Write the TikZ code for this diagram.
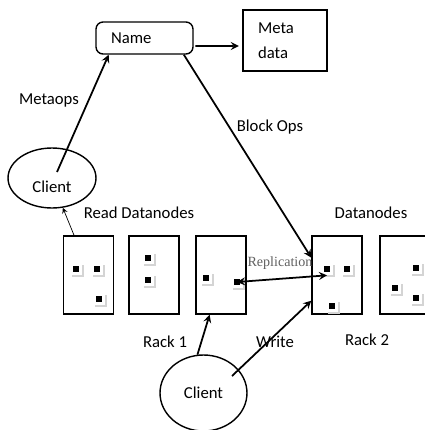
\documentclass[tikz,border=0pt]{standalone}
\usepackage{fontspec}
\setmainfont{Carlito}
\newfontfamily\repfont{Liberation Serif}
\usetikzlibrary{shapes.geometric,arrows,shadows}
\definecolor{shadowgray}{RGB}{212,212,212}
\definecolor{labelgray}{RGB}{95,95,95}

\begin{document}
\begin{tikzpicture}[x=0.02cm, y=-0.02cm, font=\fontsize{9.5}{14}\selectfont]
\tikzstyle{process} = [rectangle, draw, line width=0.8pt, align=left, inner xsep=0.3cm]
\tikzstyle{rack} = [rectangle, draw, line width=0.8pt, minimum width=1cm, minimum height=1.56cm]
\tikzstyle{client} = [ellipse, draw, line width=0.8pt]
\tikzstyle{blk} = [rectangle, inner sep=0, minimum size=6.8pt, fill=white, drop shadow={shadow xshift=1.2pt, shadow yshift=-1.2pt, fill=shadowgray, opacity=1}, path picture={\fill[black] ([xshift=-1.7pt,yshift=-1.7pt]path picture bounding box.center) rectangle ([xshift=1.7pt,yshift=1.7pt]path picture bounding box.center);}]
\tikzstyle{arrow} = [line width=1pt,->,>=stealth]

\useasboundingbox (0,0) rectangle (425,430);

% name node and metadata
\node (name) [process, rounded corners, text width=1.34cm, minimum height=0.64cm] at (144.5,38) {Name};
\node (meta) [process, text width=1.08cm, minimum height=1.22cm] at (285,40.5) {Meta\\data};

% clients
\node (client1) [client, minimum width=1.76cm, minimum height=1.2cm, label={[yshift=-0.18cm]center:Client}] at (52,178) {};
\node (client2) [client, minimum width=1.74cm, minimum height=1.52cm] at (203.5,393) {Client};

% racks
\node (box1) [rack] at (88.5,275) {};
\node (box2) [rack] at (154,275) {};
\node (box3) [rack] at (221,275) {};
\node (box4) [rack] at (337,275) {};
\node (box5) [rack] at (405,275) {};

% blocks
\node (b1a) [blk] at (76,269) {};
\node (b1b) [blk] at (97,269) {};
\node (b1c) [blk] at (99,299) {};
\node (b2a) [blk] at (148,258) {};
\node (b2b) [blk] at (148,280) {};
\node (b3a) [blk] at (206,278) {};
\node (b3b) [blk] at (237,282) {};
\node (b4a) [blk] at (327,269) {};
\node (b4b) [blk] at (347,269) {};
\node (b4c) [blk] at (332,306) {};
\node (b5a) [blk] at (416,268) {};
\node (b5b) [blk] at (395,288) {};
\node (b5c) [blk] at (416,298) {};

% labels
\node (metaops) at (49,100) {Metaops};
\node (blockops) at (270,127) {Block Ops};
\node (readdn) at (139,213) {Read Datanodes};
\node (datanodes) at (371,213) {Datanodes};
\node (rack1) at (165,342) {Rack 1};
\node (write) at (275,342) {Write};
\node (rack2) at (367,340) {Rack 2};
\node (repl) [font=\repfont\fontsize{8}{9}\selectfont, text=labelgray] at (280,263) {Replication};

% connectors
\draw [arrow, shorten >=2pt, shorten <=1pt] ([yshift=-0.16cm]name.east) -- ([yshift=-0.11cm]meta.west);
\draw [arrow] ([xshift=0.1cm,yshift=0.12cm]client1.center) -- (name.205);
\draw [arrow] (name.337) -- (box4.146);
\draw [thin,->,>=stealth] (box1.110) -- (client1.290);
\draw [line width=1pt,<->,>=stealth] (b3b.center) -- (b4a.south);
\draw [arrow] (client2.99) -- (box3.254);
\draw [arrow] ([xshift=0.57cm,yshift=0.34cm]client2.center) -- (box4.225);
\end{tikzpicture}
\end{document}
